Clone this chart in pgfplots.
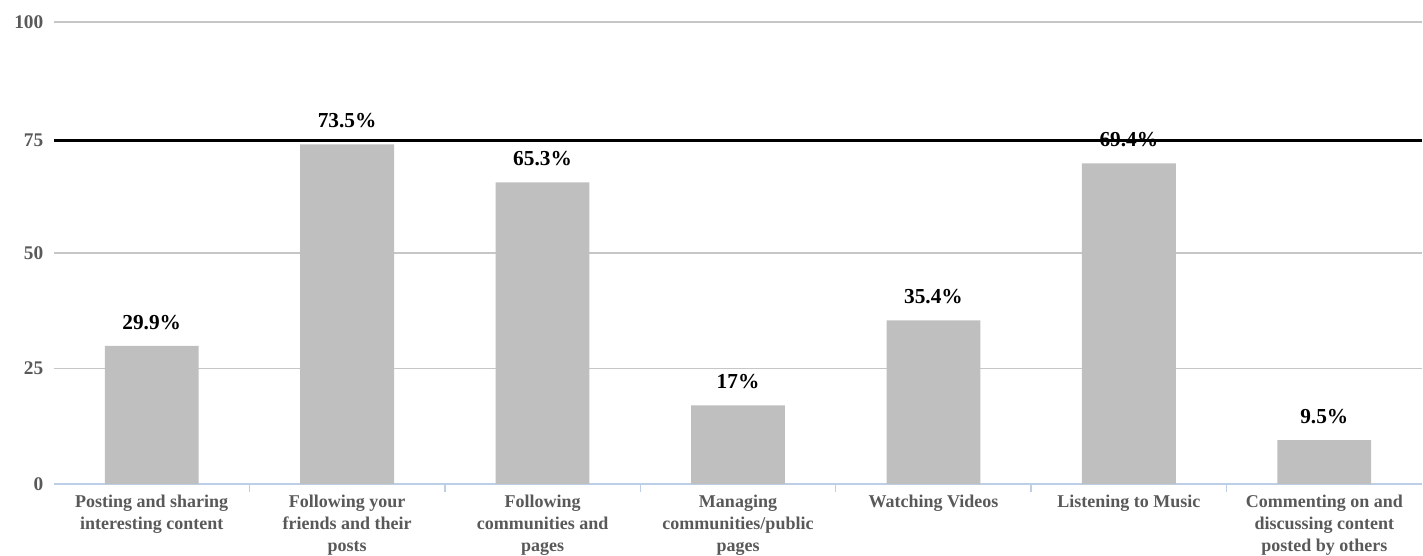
\documentclass[border=0pt]{standalone}
\usepackage{fontspec}
\setmainfont{Liberation Serif}
\usepackage{pgfplots}
\pgfplotsset{compat=1.18}
\definecolor{barg}{HTML}{BFBFBF}
\definecolor{gridg}{HTML}{C6C6C6}
\definecolor{axb}{HTML}{BCCFE6}
\definecolor{lbl}{HTML}{595959}
\begin{document}
\begin{tikzpicture}
\begin{axis}[
  scale only axis, width=1026pt, height=346.5pt,
  xmin=-0.5, xmax=6.5, ymin=0, ymax=100,
  axis x line*=bottom, axis y line*=left,
  x axis line style={draw=axb, line width=1.4pt, -},
  y axis line style={draw=none},
  major tick length=0pt,
  ytick={0,25,50,74.3,100}, yticklabels={0,25,50,75,100},
  ymajorgrids, grid style={draw=gridg, line width=1.1pt},
  yticklabel style={font=\fontsize{14.5}{16}\selectfont\bfseries, text=lbl, xshift=-4.5pt},
  xtick={0,1,2,3,4,5,6},
  xticklabels={{Posting and sharing\\interesting content},{Following your\\friends and their\\posts},{Following\\communities and\\pages},{Managing\\communities/public\\pages},{Watching Videos},{Listening to Music},{Commenting on and\\discussing content\\posted by others}},
  xticklabel style={align=center, font=\fontsize{13.5}{16.5}\selectfont\bfseries, text=lbl, anchor=north, yshift=-5pt},
  extra x ticks={0.5,1.5,2.5,3.5,4.5,5.5},
  extra x tick labels={},
  extra x tick style={major tick length=6pt, tick align=outside, tick style={draw=axb, line width=1pt}},
  /pgf/number format/assume math mode=true,
]
\addplot[ybar, bar width=0.48, fill=barg, draw=none,
  nodes near coords={\pgfmathprintnumber{\pgfplotspointmeta}\%},
  nodes near coords style={font=\fontsize{16}{18}\selectfont\bfseries, text=black, anchor=south, inner sep=0pt, yshift=12pt},
  point meta=y]
  coordinates {(0,29.9) (1,73.5) (2,65.3) (3,17) (4,35.4) (5,69.4) (6,9.5)};
\addplot[black, line width=2.2pt, forget plot] coordinates {(-0.5,74.3) (6.5,74.3)};
\end{axis}
\pgfresetboundingbox
\path[use as bounding box] ([xshift=-40.5pt, yshift=-53.25pt]current axis.south west) rectangle ([xshift=0.75pt, yshift=16.5pt]current axis.north east);
\end{tikzpicture}
\end{document}
